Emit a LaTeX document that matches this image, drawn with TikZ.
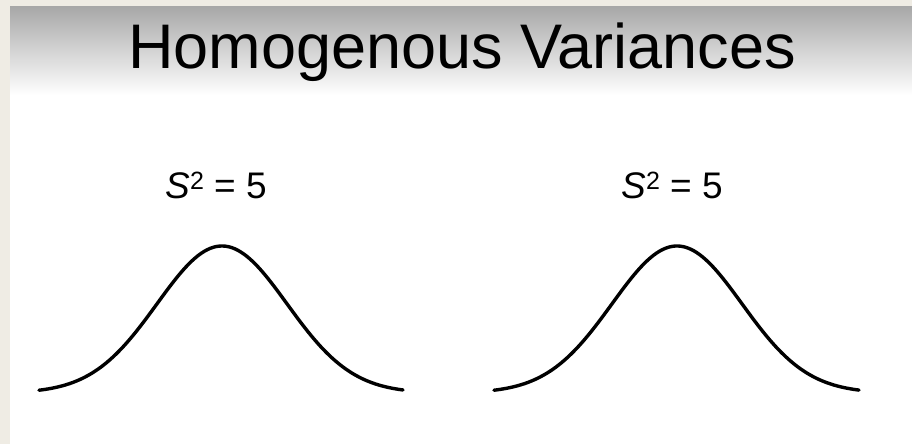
\documentclass[tikz,border=0pt]{standalone}
\usepackage{fontspec}
\setmainfont{Liberation Sans}
\definecolor{frame}{HTML}{EFECE4}
\newcommand{\sqsup}{\raisebox{9pt}{\fontsize{25}{25}\selectfont 2}}
\begin{document}
\begin{tikzpicture}[
        x=1pt, y=-1pt,
        title/.style={anchor=base, font=\fontsize{63}{66}\selectfont},
        label/.style={anchor=base, font=\fontsize{37}{40}\selectfont},
        bell/.style={draw, line width=3.4pt, line cap=round, smooth, samples=120}
      ]
      \useasboundingbox (0, 0) rectangle (912, 444);
      \fill[frame] (0, 0) rectangle (912, 444);
      \fill[white] (10, 7) rectangle (912, 444);
      \shade[top color=black!34, bottom color=white] (10, 7) rectangle (912, 95);

      \node [title] (t_title) at (462, 69) {Homogenous Variances};

      \node [label] (l_left) at (216, 198) {\textit{S}\sqsup{} = 5};
      \node [label] (l_right) at (672, 198) {\textit{S}\sqsup{} = 5};

      % bell curves
      \draw [bell, domain=39:403] plot (\x, {393 - 147*exp(-((\x-222)/65)^2/2)});
      \draw [bell, domain=494:859] plot (\x, {393 - 147*exp(-((\x-677)/65)^2/2)});

    \end{tikzpicture}
\end{document}
